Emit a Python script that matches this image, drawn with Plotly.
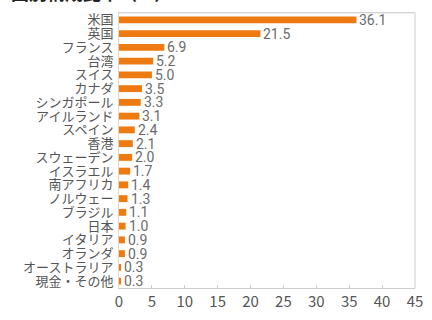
import plotly.graph_objects as go

categories = ["米国", "英国", "フランス", "台湾", "スイス", "カナダ", "シンガポール",
              "アイルランド", "スペイン", "香港", "スウェーデン", "イスラエル", "南アフリカ",
              "ノルウェー", "ブラジル", "日本", "イタリア", "オランダ", "オーストラリア", "現金・その他"]
values = [36.1, 21.5, 6.9, 5.2, 5.0, 3.5, 3.3, 3.1, 2.4, 2.1, 2.0, 1.7, 1.4, 1.3, 1.1, 1.0, 0.9, 0.9, 0.3, 0.3]
labels = [f"{v:.1f}" for v in values]
x_ticks = [0, 5, 10, 15, 20, 25, 30, 35, 40, 45]
title = "国別構成比率（%）"

fig = go.Figure()
fig.add_trace(go.Bar(
    x=values, y=categories, orientation="h",
    marker=dict(color="#EE7B12", line=dict(width=0)),
    width=0.5,
))

annotations = [dict(text=f"<b>{title}</b>", x=-0.37, xref="paper", y=1.02, yref="paper",
                    xanchor="left", yanchor="bottom", showarrow=False,
                    font=dict(size=18, color="#222222", family="Noto Sans CJK JP"))]
for cat, v, lab in zip(categories, values, labels):
    annotations.append(dict(text=lab, x=v, y=cat, xref="x", yref="y", xanchor="left",
                            yanchor="middle", xshift=2, showarrow=False, borderpad=0,
                            font=dict(family="Roboto", size=14, color="#6b6b6b")))

fig.update_layout(
    width=432, height=320,
    margin=dict(l=119, r=9, t=13, b=20),
    paper_bgcolor="white", plot_bgcolor="white",
    showlegend=False,
    font=dict(family="Noto Sans CJK JP", color="#555555"),
    annotations=annotations,
)
fig.update_xaxes(range=[0, 45], tickvals=x_ticks, showgrid=False, zeroline=False,
                 showline=True, linecolor="#cccccc", mirror=True,
                 ticks="inside", ticklen=3, tickcolor="#cccccc",
                 tickfont=dict(size=15, color="#555555"))
fig.update_yaxes(range=[19.5, -0.5], tickmode="linear", dtick=1,
                 showgrid=False, zeroline=False,
                 showline=True, linecolor="#f3d2b0", mirror=False,
                 ticks="", ticklabelstandoff=2,
                 tickfont=dict(size=13, color="#555555"))
fig.add_shape(type="line", xref="paper", yref="paper", x0=1, x1=1, y0=0, y1=1,
              line=dict(color="#cccccc", width=1))
fig.add_shape(type="line", xref="paper", yref="paper", x0=0, x1=1, y0=1, y1=1,
              line=dict(color="#dddddd", width=1))

fig.write_html("out.html")
